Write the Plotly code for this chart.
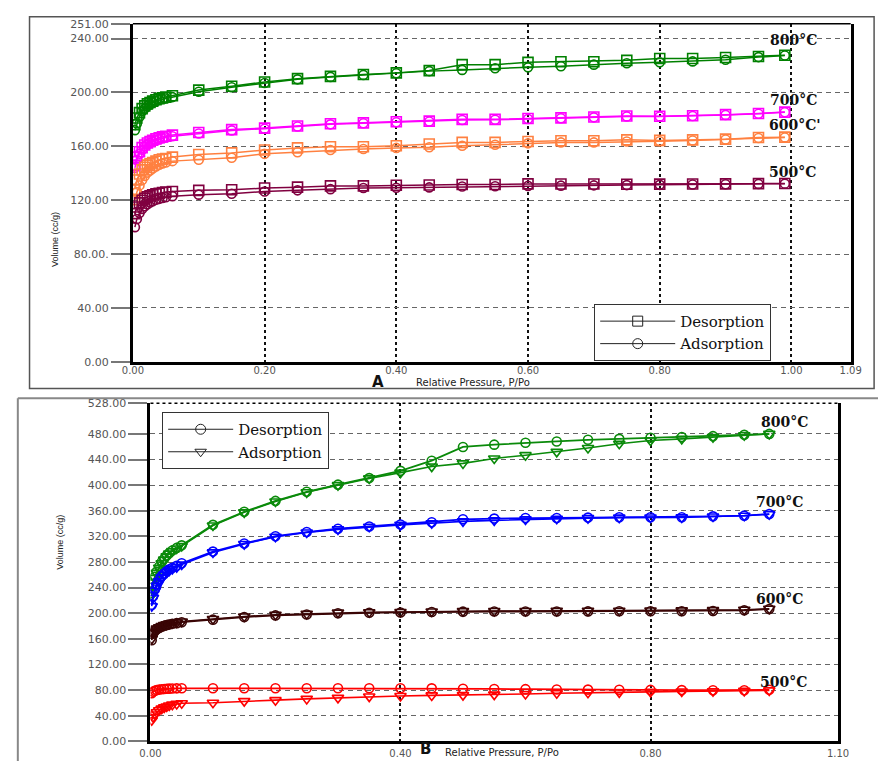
import plotly.graph_objects as go

W, H = 889, 768

# ---------------- Panel A data ----------------
P_A = [0.003, 0.006, 0.010, 0.014, 0.018, 0.022, 0.026, 0.030, 0.035, 0.040, 0.045, 0.050, 0.060,
       0.10, 0.15, 0.20, 0.25, 0.30, 0.35, 0.40, 0.45, 0.50, 0.55, 0.60, 0.65, 0.70, 0.75,
       0.80, 0.85, 0.90, 0.95, 0.99]

A800_des = [176, 181, 185, 188, 190, 191.5, 192.5, 193.5, 194.5, 195.5, 196, 196.5, 197.5,
            201.7, 204.6, 207.7, 210.2, 211.9, 213.3, 214.5, 216.2, 220.6, 220.6, 222.3, 222.8,
            222.8, 223.8, 225.2, 225.2, 225.9, 226.6, 227.6]
A800_ads = [172, 177, 182, 186, 188, 190, 191, 192.5, 193.5, 194.5, 195, 195.5, 196.5,
            200.5, 203.8, 207, 209.7, 211.5, 213, 214.2, 215.8, 216.7, 217.9, 218.6, 219.4,
            220.6, 221.6, 222.3, 223, 224.2, 226.2, 227.4]
A700_des = [146, 152, 156, 159, 161, 162.5, 163.5, 164.5, 165.5, 166.3, 167, 167.5, 168.3,
            170.2, 172.4, 173.5, 175.1, 176.7, 177.4, 178.2, 178.7, 180, 180, 180.6, 181.1,
            181.8, 182.5, 182.3, 182.7, 183.5, 184.4, 185.4]
A700_ads = [144, 150, 154.5, 157.5, 160, 161.5, 162.5, 163.5, 164.5, 165.3, 166, 166.5, 167.5,
            169.5, 171.8, 173.1, 174.7, 176.3, 177.1, 177.9, 178.4, 179.5, 179.7, 180.3, 180.8,
            181.5, 182.2, 182.1, 182.5, 183.3, 184.2, 185.3]
A600_des = [128, 135, 139.5, 142.5, 144.5, 146, 147, 148, 149, 150, 150.5, 151, 152,
            153.9, 155.1, 157.3, 158.8, 159.7, 159.7, 160.4, 161.7, 162.9, 162.9, 163.6, 164.1,
            164.1, 164.8, 164.4, 164.8, 165.3, 166.5, 166.8]
A600_ads = [120, 126, 131, 135, 138, 140.5, 142, 143.5, 145, 146.3, 147.3, 148, 149,
            150, 151.5, 154.4, 155.6, 157.3, 158, 158.8, 159.3, 160.4, 161.2, 162.2, 162.9,
            162.9, 163.6, 163.8, 164.3, 165, 166.2, 166.6]
A500_des = [110, 115, 118, 120, 121.5, 122.5, 123.3, 124, 124.7, 125.2, 125.7, 126, 126.5,
            127.3, 127.7, 129, 129.7, 130.6, 130.6, 131.1, 131.3, 131.6, 131.6, 132.1, 132,
            132, 131.8, 131.9, 132, 132.1, 132.3, 132.4]
A500_ads = [100, 106, 110.5, 113.5, 115.5, 117, 118.3, 119.3, 120.3, 121, 121.7, 122.2, 123,
            124.1, 124.8, 126.5, 127.3, 128.2, 129, 129.2, 129.5, 130.2, 130.4, 130.6, 130.8,
            131, 131.2, 131.4, 131.6, 131.8, 132.1, 132.3]

A_xticks = [0, 0.2, 0.4, 0.6, 0.8, 1.0, 1.09]
A_xtext = ["0.00", "0.20", "0.40", "0.60", "0.80", "1.00", "1.09"]
A_yticks = [0, 40, 80, 120, 160, 200, 240, 251]
A_ytext = ["0.00", "40.00", "80.00.", "120.00", "160.00", "200.00", "240.00", "251.00"]

# ---------------- Panel B data ----------------
P_B = [0.002, 0.004, 0.007, 0.010, 0.014, 0.018, 0.022, 0.026, 0.030, 0.035, 0.042, 0.050,
       0.10, 0.15, 0.20, 0.25, 0.30, 0.35, 0.40, 0.45, 0.50, 0.55, 0.60, 0.65, 0.70, 0.75,
       0.80, 0.85, 0.90, 0.95, 0.99]

B800_des = [232, 246, 257, 265, 273, 280, 285, 290, 294, 298, 302, 306,
            338, 358.5, 375.4, 389.6, 400.8, 411, 422.3, 438.2, 459.6, 463.2, 466.2, 468.2,
            470.8, 472.3, 473.9, 475, 476.5, 478.5, 480]
B800_ads = [228, 243, 255, 263, 271, 278, 284, 289, 293, 297, 301, 305,
            337, 357.5, 374.5, 388.8, 400, 410.5, 419.5, 429, 434, 441.7, 446.8, 452,
            458, 464.7, 469.8, 472.3, 475, 478, 480]
B700_des = [213, 226, 237, 245, 252, 258, 262, 265.5, 268.5, 271, 274, 278,
            296.2, 308.9, 320.2, 326.8, 331.9, 335.5, 338.6, 342.1, 346.7, 347.8, 348.7, 348.7,
            349.3, 349.8, 349.8, 349.8, 351.3, 352.4, 354.8]
B700_ads = [211, 224, 235, 243, 250, 256, 260, 263.5, 266.5, 269, 272, 276,
            295, 308, 319.5, 326, 331, 335, 338, 340.5, 343.5, 345, 346.5, 347.5,
            348.5, 349.3, 349.5, 349.6, 351, 352.2, 354.6]
B600_des = [158, 168, 172, 175, 177, 179, 180.5, 181.5, 182.5, 183.5, 184.5, 186,
            190, 194, 196.6, 198.1, 200.1, 200.7, 201.2, 202, 202.5, 202.7, 202.7, 202.8,
            202.9, 203, 203.1, 203.2, 203.5, 204.5, 206.5]
B600_ads = [160, 169, 173, 176, 178, 180, 181.5, 182.5, 183.5, 184.5, 185.5, 187,
            191, 195, 197.5, 199, 201, 201.6, 202, 202.8, 203.3, 203.5, 203.6, 203.7,
            203.8, 204, 204.2, 204.4, 204.8, 205.5, 207]
B500_des = [75, 77.5, 79, 80, 80.8, 81.3, 81.7, 82, 82.3, 82.5, 82.7, 82.8,
            82.8, 82.8, 82.8, 82.8, 82.8, 82.8, 82.8, 82.7, 82.2, 81.8, 81.5, 81,
            80.8, 80.5, 80.3, 80, 79.8, 79.7, 80.5]
B500_ads = [33, 38, 42, 45.5, 48.5, 51, 53, 54.5, 56, 57.3, 58.5, 59.5,
            60.2, 62.8, 64.3, 66.3, 67.9, 69.9, 70.9, 71.7, 72.2, 73, 74, 75,
            76, 76.5, 77.3, 77.8, 78.3, 78.8, 79.5]

B_xticks = [0, 0.4, 0.8, 1.1]
B_xtext = ["0.00", "0.40", "0.80", "1.10"]
B_yticks = [0, 40, 80, 120, 160, 200, 240, 280, 320, 360, 400, 440, 480, 528]
B_ytext = ["0.00", "40.00", "80.00", "120.00", "160.00", "200.00", "240.00", "280.00",
           "320.00", "360.00", "400.00", "440.00", "480.00", "528.00"]

colors_A = {"800": "#008000", "700": "#FF00FF", "600": "#FF8040", "500": "#800040"}
colors_B = {"800": "#0A8A0A", "700": "#0000FF", "600": "#3A0505", "500": "#FF0000"}

fig = go.Figure()


def px_x(p):
    return p / W


def px_y(p):
    return 1 - p / H


def add_series(x, y, color, symbol, xa, ya, size=9, width=1.5):
    fig.add_trace(go.Scatter(
        x=x, y=y, mode="lines+markers", xaxis=xa, yaxis=ya, showlegend=False,
        line=dict(color=color, width=width),
        marker=dict(symbol=symbol, size=size, color=color, line=dict(color=color, width=1.6)),
        hoverinfo="skip"))


# Panel A series
for key, des, ads in [("800", A800_des, A800_ads), ("700", A700_des, A700_ads),
                      ("600", A600_des, A600_ads), ("500", A500_des, A500_ads)]:
    add_series(P_A, ads, colors_A[key], "circle-open", "x", "y", size=9)
    add_series(P_A, des, colors_A[key], "square-open", "x", "y", size=10)

# Panel B series
for key, des, ads in [("800", B800_des, B800_ads), ("700", B700_des, B700_ads),
                      ("600", B600_des, B600_ads), ("500", B500_des, B500_ads)]:
    add_series(P_B, ads, colors_B[key], "triangle-down-open", "x2", "y2", size=10, width=1.6)
    add_series(P_B, des, colors_B[key], "circle-open", "x2", "y2", size=9, width=1.8)

# legend entries
for name, sym, leg in [("Desorption", "square-open", "legend"), ("Adsorption", "circle-open", "legend"),
                       ("Desorption", "circle-open", "legend2"), ("Adsorption", "triangle-down-open", "legend2")]:
    fig.add_trace(go.Scatter(
        x=[None], y=[None], mode="lines+markers", name=name, legend=leg,
        xaxis="x" if leg == "legend" else "x2", yaxis="y" if leg == "legend" else "y2",
        line=dict(color="#222", width=1),
        marker=dict(symbol=sym, size=10, color="#222", line=dict(color="#222", width=1))))

tickfont = dict(family="DejaVu Sans", size=11, color="#555")
xtickfont = dict(family="DejaVu Sans", size=10, color="#555")
ygrid = dict(showgrid=True, gridcolor="#666", gridwidth=1, griddash="5px,4px")
xgrid = dict(showgrid=True, gridcolor="#111", gridwidth=1.5, griddash="dot")
legfont = dict(family="DejaVu Serif", size=15, color="#111")

fig.update_layout(
    width=W, height=H, margin=dict(l=0, r=0, t=0, b=0),
    paper_bgcolor="white", plot_bgcolor="white",
    xaxis=dict(domain=[px_x(125), px_x(861)], range=[0, 1.09], anchor="y",
               tickvals=A_xticks, ticktext=A_xtext, tickfont=xtickfont,
               ticks="outside", ticklen=1, tickcolor="white", ticklabelstandoff=-4,
               showline=True, linecolor="black", linewidth=3, zeroline=False, **xgrid),
    yaxis=dict(domain=[px_y(362), px_y(18)], range=[0, 251], anchor="x",
               tickvals=A_yticks, ticktext=A_ytext, tickfont=tickfont,
               ticks="outside", ticklen=19, tickcolor="#777", tickwidth=1.5,
               showline=True, linecolor="black", linewidth=3, mirror=True, zeroline=False, **ygrid),
    xaxis2=dict(domain=[px_x(143), px_x(848)], range=[0, 1.10], anchor="y2",
                tickvals=B_xticks, ticktext=B_xtext, tickfont=xtickfont,
                ticks="outside", ticklen=1, tickcolor="white",
                showline=True, linecolor="black", linewidth=3, zeroline=False, **xgrid),
    yaxis2=dict(domain=[px_y(748), px_y(404)], range=[0, 528], anchor="x2",
                tickvals=B_yticks, ticktext=B_ytext, tickfont=tickfont,
                ticks="outside", ticklen=19, tickcolor="#777", tickwidth=1.5,
                showline=True, linecolor="black", linewidth=3, mirror=True, zeroline=False, **ygrid),
    legend=dict(x=px_x(598), y=px_y(361), xanchor="left", yanchor="bottom",
                bgcolor="white", bordercolor="#333", borderwidth=1, tracegroupgap=0,
                itemwidth=75, font=legfont),
    legend2=dict(x=px_x(155), y=px_y(413), xanchor="left", yanchor="top",
                 bgcolor="white", bordercolor="#333", borderwidth=1, tracegroupgap=0,
                 itemwidth=65, font=legfont),
    showlegend=True,
)

shapes = [
    # panel frames
    dict(type="rect", xref="paper", yref="paper", x0=px_x(19), x1=px_x(885), y0=px_y(389), y1=px_y(11),
         line=dict(color="#555", width=1.5)),
    dict(type="line", xref="paper", yref="paper", x0=px_x(7), x1=1, y0=px_y(399), y1=px_y(399),
         line=dict(color="#888", width=2)),
    dict(type="line", xref="paper", yref="paper", x0=px_x(7), x1=px_x(7), y0=0, y1=px_y(399),
         line=dict(color="#888", width=2)),
    # panel A top border
    dict(type="line", xref="x domain", yref="y domain", x0=0, x1=1, y0=1, y1=1,
         line=dict(color="black", width=1.5)),
    # panel B top border (dotted)
    dict(type="line", xref="x2 domain", yref="y2 domain", x0=0, x1=1, y0=1, y1=1,
         line=dict(color="black", width=1.5, dash="dot")),
]

serif_bold = dict(family="DejaVu Serif", size=14, color="#111", weight="bold")
annotations = []
for txt, xp, yp in [("800°C", 802, 35), ("700°C", 802, 96), ("600°C'", 804, 121), ("500°C", 801, 169),
                    ("800°C", 793, 423), ("700°C", 788, 505), ("600°C", 788, 603), ("500°C", 792, 688)]:
    annotations.append(dict(text=txt, x=px_x(xp), y=px_y(yp), xref="paper", yref="paper",
                            showarrow=False, xanchor="center", yanchor="middle", font=serif_bold))

sans = dict(family="DejaVu Sans", size=10, color="#222")
annotations += [
    dict(text="A", x=px_x(376), y=px_y(382), xref="paper", yref="paper", showarrow=False,
         font=dict(family="DejaVu Sans", size=15, color="#111", weight="bold")),
    dict(text="Relative Pressure, P/Po", x=px_x(413), y=px_y(383), xref="paper", yref="paper",
         showarrow=False, xanchor="left", font=sans),
    dict(text="B", x=px_x(425), y=px_y(767), xref="paper", yref="paper", showarrow=False,
         font=dict(family="DejaVu Sans", size=15, color="#111", weight="bold")),
    dict(text="Relative Pressure, P/Po", x=px_x(443), y=px_y(767), xref="paper", yref="paper",
         showarrow=False, xanchor="left", font=sans),
    dict(text="Volume (cc/g)", x=px_x(38), y=px_y(208), xref="paper", yref="paper", showarrow=False,
         textangle=-90, font=dict(family="Liberation Sans", size=9, color="#222")),
    dict(text="Volume (cc/g)", x=px_x(43), y=px_y(575), xref="paper", yref="paper", showarrow=False,
         textangle=-90, font=dict(family="Liberation Sans", size=9, color="#222")),
]

fig.update_layout(shapes=shapes, annotations=annotations)
fig.write_html("out.html")
